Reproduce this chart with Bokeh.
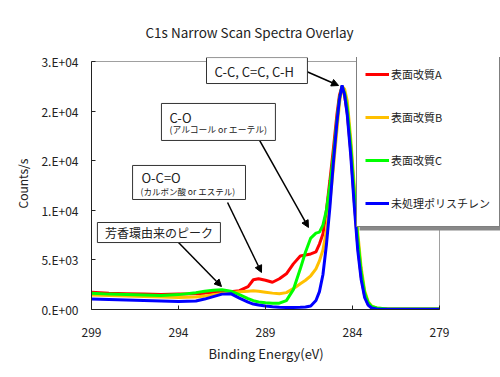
from bokeh.plotting import figure
from bokeh.models import (Range1d, FixedTicker, Legend, LegendItem, BoxAnnotation,
                          Label, Arrow, NormalHead, Title)
from bokeh.embed import file_html
from bokeh.resources import INLINE

FONT = "Noto Sans CJK JP"

energy = [299, 298, 297, 296, 295, 294, 293, 292.5, 292, 291.5, 291, 290.5, 290,
          289.7, 289.4, 289, 288.6, 288.2, 287.8, 287.4, 287.0, 286.7, 286.4, 286.1,
          285.9, 285.7, 285.5, 285.3, 285.1, 284.9, 284.75, 284.6, 284.45, 284.3,
          284.1, 283.9, 283.7, 283.5, 283.3, 283.1, 282.9, 282.6, 282, 281, 280, 279]

surface_a = [1750, 1650, 1600, 1550, 1500, 1550, 1600, 1650, 1750, 1800, 1800, 1900, 2300,
             3000, 3100, 2950, 2750, 3100, 3600, 4600, 5400, 5500, 5600, 5800,
             6600, 7600, 10000, 13000, 16200, 19600, 21600, 22500, 21500, 19800,
             16000, 11000, 6500, 3300, 1400, 500, 200, 100, 50, 30, 30, 30]

surface_b = [1450, 1400, 1350, 1300, 1250, 1200, 1250, 1350, 1500, 1600, 1700, 1780, 1850,
             1880, 1850, 1750, 1650, 1580, 1700, 2100, 2600, 2950, 3400, 4100,
             4900, 6000, 7900, 10800, 14300, 18000, 20800, 22500, 22200, 21000,
             17200, 12500, 7800, 4200, 1900, 800, 350, 150, 60, 40, 40, 40]

surface_c = [1650, 1550, 1500, 1450, 1400, 1500, 1700, 1850, 1950, 2000, 1850, 1500, 1100,
             900, 750, 680, 640, 640, 900, 2000, 4100, 5800, 7200, 7700,
             7800, 8500, 10000, 12500, 15500, 19000, 21300, 22500, 21800, 20300,
             16500, 11800, 7200, 3800, 1700, 700, 300, 150, 60, 40, 40, 40]

untreated = [1050, 1000, 950, 900, 850, 800, 850, 1050, 1300, 1550, 1600, 1150, 750,
             550, 450, 350, 280, 220, 200, 200, 220, 250, 350, 900,
             1800, 3500, 6500, 10300, 14800, 18800, 21200, 22600, 21600, 19600,
             15500, 10500, 6000, 3000, 1200, 450, 150, 50, 30, 20, 20, 20]

series_names = ["表面改質A", "表面改質B", "表面改質C", "未処理ポリスチレン"]
series_colors = ["#FF0000", "#FFC000", "#00FF00", "#0000FF"]

x_ticks = [299, 294, 289, 284, 279]
y_ticks = [0, 5000, 10000, 15000, 20000, 25000]
y_tick_labels = ["0.E+00", "5.E+03", "1.E+04", "2.E+04", "2.E+04", "3.E+04"]

X_MIN, X_MAX = 279, 299
Y_MIN, Y_MAX = 0, 25000

# frame extends past the axes' ends so the legend and top box are not clipped
px_per_ev = 348 / 20.0
units_per_px = 25000 / 248.0
p = figure(width=500, height=377, output_backend="svg", toolbar_location=None,
           x_range=Range1d(X_MAX, X_MIN - 61 / px_per_ev),
           y_range=Range1d(Y_MIN, Y_MAX + 4 * units_per_px),
           min_border_left=91, min_border_right=0, min_border_top=57,
           min_border_bottom=68, background_fill_color="white",
           border_fill_color="white", outline_line_color=None)

p.title.text = "C1s Narrow Scan Spectra Overlay"
p.title.align = "left"
p.title.offset = 54
p.title.text_font = FONT
p.title.text_font_size = "13.5px"
p.title.text_font_style = "normal"
p.title.text_color = "#222222"
p.title.standoff = 32

p.xgrid.visible = False
p.ygrid.visible = False

# plot-area border (gray) behind everything
p.add_layout(BoxAnnotation(left=X_MIN, right=X_MAX, bottom=Y_MIN, top=Y_MAX,
                           fill_alpha=0, line_color="#A0A0A0", line_alpha=1,
                           line_width=1, level="underlay"))

for ax in (p.xaxis[0], p.yaxis[0]):
    ax.axis_line_color = "#222222"
    ax.major_tick_line_color = "#222222"
    ax.major_tick_in = 4
    ax.major_tick_out = 0
    ax.minor_tick_line_color = None
    ax.major_label_text_font = FONT
    ax.major_label_text_font_size = "12px"
    ax.major_label_text_color = "#222222"
    ax.axis_label_text_font = FONT
    ax.axis_label_text_font_size = "12px"
    ax.axis_label_text_font_style = "normal"
    ax.axis_label_text_color = "#222222"

p.xaxis[0].bounds = (X_MIN, X_MAX)
p.yaxis[0].bounds = (Y_MIN, Y_MAX)
p.xaxis[0].ticker = FixedTicker(ticks=x_ticks)
p.yaxis[0].ticker = FixedTicker(ticks=y_ticks)
p.yaxis[0].major_label_overrides = {t: l for t, l in zip(y_ticks, y_tick_labels)}
p.yaxis[0].axis_label = "Counts/s"
p.xaxis[0].major_label_standoff = 18
p.yaxis[0].major_label_standoff = 13
p.yaxis[0].axis_label_standoff = 7

# x-axis title, placed under the axis and centred under the plotted span
p.add_layout(Title(text="Binding Energy(eV)", align="left", offset=117,
                   text_font=FONT, text_font_size="13px", text_font_style="normal",
                   text_color="#222222", standoff=4), "below")

renderers = []
for ys, c in zip([surface_a, surface_b, surface_c, untreated], series_colors):
    r = p.line(energy, ys, line_color=c, line_width=3)
    renderers.append(r)

# annotation boxes
def tbox(l, r, b, t):
    p.add_layout(BoxAnnotation(left=l, right=r, bottom=b, top=t, fill_color="white",
                               fill_alpha=1, line_color="#333333", line_alpha=1,
                               line_width=1, level="overlay"))

def txt(x, y, s, size, align="left"):
    p.add_layout(Label(x=x, y=y, text=s, text_font=FONT, text_font_size=size,
                       text_align=align, text_baseline="middle", text_color="#222222",
                       level="overlay"))

def arr(x0, y0, x1, y1):
    p.add_layout(Arrow(x_start=x0, y_start=y0, x_end=x1, y_end=y1,
                       line_color="black", line_width=1.5,
                       end=NormalHead(size=7, fill_color="black", line_color="black")))

tbox(292.39, 286.59, 22780, 25400)
txt(291.93, 24000, "C-C, C=C, C-H", "13px")
arr(286.64, 23990, 284.80, 22580)

tbox(294.98, 288.43, 17040, 20770)
txt(294.52, 19350, "C-O", "13px")
txt(294.52, 18150, "(アルコール or エーテル)", "8.8px")
arr(289.34, 17040, 286.53, 8270)

tbox(296.64, 290.15, 11090, 14520)
txt(296.13, 13310, "O-C=O", "13px")
txt(296.18, 11900, "(カルボン酸 or エステル)", "8.5px")
arr(291.18, 10790, 289.23, 3730)

tbox(298.66, 291.59, 6750, 8770)
txt(295.12, 7760, "芳香環由来のピーク", "12px", align="center")
arr(294.0, 6750, 291.53, 2320)

# legend shadow + legend
LEG_W = 2 * 8 + 24 + 2 + 100
LEG_H = 2 * 8 + 4 * 30 + 3 * 13
shadow = BoxAnnotation(left=268, right=268 + LEG_W, bottom=79, top=79 + LEG_H,
                       left_units="screen", right_units="screen",
                       bottom_units="screen", top_units="screen",
                       fill_color="#888888", fill_alpha=1, line_color=None)
p.add_layout(shadow)

legend = Legend(items=[LegendItem(label=n, renderers=[r]) for n, r in zip(series_names, renderers)],
                location=(265, 82), orientation="vertical",
                label_text_font=FONT, label_text_font_size="11px",
                label_text_color="#222222",
                glyph_width=24, glyph_height=30, label_height=30, label_width=100,
                spacing=13, padding=8, margin=0, label_standoff=2,
                border_line_color="black", border_line_width=1,
                background_fill_color="white", background_fill_alpha=1)
p.add_layout(legend, "center")

open("out.html", "w").write(file_html(p, INLINE))
